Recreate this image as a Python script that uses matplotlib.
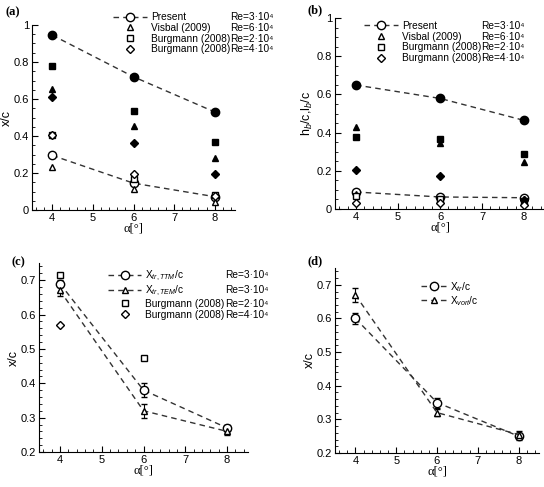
import matplotlib
matplotlib.use('Agg')
import matplotlib.pyplot as plt
from matplotlib.ticker import AutoMinorLocator, MultipleLocator, FuncFormatter
from matplotlib.lines import Line2D

plt.rcParams['font.family'] = ['Liberation Sans', 'DejaVu Sans']
plt.rcParams['mathtext.fontset'] = 'custom'
plt.rcParams['mathtext.rm'] = 'Liberation Sans'
plt.rcParams['mathtext.it'] = 'Liberation Sans:italic'

alpha = [4, 6, 8]

# (a) x/c
a_present_fill = [0.945, 0.72, 0.53]
a_present_open = [0.295, 0.145, 0.072]
a_visbal_fill = [0.655, 0.455, 0.283]
a_visbal_open = [0.234, 0.112, 0.045]
a_burg2_fill = [0.78, 0.537, 0.366]
a_burg2_open = [0.405, 0.166, 0.079]
a_burg4_fill = [0.613, 0.36, 0.193]
a_burg4_open = [0.405, 0.195, 0.076]

# (b) h_b/c, l_b/c
b_present_fill = [0.649, 0.579, 0.464]
b_present_open = [0.089, 0.063, 0.059]
b_visbal_fill = [0.428, 0.346, 0.244]
b_visbal_open = [0.08, 0.05, 0.05]
b_burg2_fill = [0.379, 0.368, 0.288]
b_burg2_open = [0.07, 0.05, 0.04]
b_burg4_fill = [0.206, 0.175, 0.045]
b_burg4_open = [0.03, 0.03, 0.02]

names_ab = ['Present', 'Visbal (2009)', 'Burgmann (2008)', 'Burgmann (2008)']
re_ab = ['Re=3·10⁴', 'Re=6·10⁴', 'Re=2·10⁴', 'Re=4·10⁴']

# (c) transition location
c_ttm = [0.69, 0.38, 0.27]
c_ttm_err = [0.01, 0.02, 0.01]
c_tem = [0.67, 0.32, 0.26]
c_tem_err = [0.015, 0.02, 0.01]
c_burg2 = [0.715, 0.475, 0.27]
c_burg4_alpha = [4]
c_burg4 = [0.57]
names_c = ['X$_{tr,TTM}$/c', 'X$_{tr,TEM}$/c', 'Burgmann (2008)', 'Burgmann (2008)']
re_c = ['Re=3·10⁴', 'Re=3·10⁴', 'Re=2·10⁴', 'Re=4·10⁴']

# (d)
d_tr = [0.60, 0.35, 0.25]
d_tr_err = [0.015, 0.015, 0.01]
d_vort = [0.67, 0.32, 0.255]
d_vort_err = [0.02, 0.01, 0.01]
names_d = ['X$_{tr}$/c', 'X$_{vort}$/c']

fig = plt.figure(figsize=(5.44, 4.87), dpi=100)
W, H = 544, 487
LFS = 7.3


def make_ax(x0, x1, y0, y1):
    ax = fig.add_axes([x0 / W, 1 - y1 / H, (x1 - x0) / W, (y1 - y0) / H])
    ax.spines['top'].set_visible(False)
    ax.spines['right'].set_visible(False)
    ax.set_xlim(3.5, 8.5)
    ax.xaxis.set_major_locator(MultipleLocator(1))
    ax.xaxis.set_minor_locator(AutoMinorLocator(5))
    ax.yaxis.set_minor_locator(AutoMinorLocator(4))
    ax.yaxis.set_major_formatter(FuncFormatter(lambda v, p: '%g' % round(v, 3)))
    ax.tick_params(which='both', direction='in', labelsize=8, pad=2)
    ax.tick_params(which='major', length=4)
    ax.tick_params(which='minor', length=2)
    ax.set_xlabel('α[°]', family=['Liberation Serif'], fontsize=9, labelpad=0)
    return ax


dash = dict(ls=(0, (4, 3)), lw=1, color='#333333')
k = 'black'
legends = []


def two_col_legend(ax, handles, names, res, anchor, hl=3.3):
    leg = ax.legend(handles, names, loc='upper left',
                    bbox_to_anchor=anchor, frameon=False, fontsize=LFS,
                    handlelength=hl, handletextpad=0.4,
                    labelspacing=0.08, borderpad=0, borderaxespad=0)
    legends.append((leg, res))


def scatter_panel(ax, pf, po, vf, vo, b2f, b2o, b4f, b4o):
    ax.plot(alpha, pf, marker='o', ms=6, mfc=k, mec=k, **dash)
    ax.plot(alpha, po, marker='o', ms=6, mfc='white', mec=k, **dash)
    ax.plot(alpha, vf, '^', ms=4.5, mfc=k, mec=k)
    ax.plot(alpha, vo, '^', ms=4.5, mfc='white', mec=k)
    ax.plot(alpha, b2f, 's', ms=4.5, mfc=k, mec=k)
    ax.plot(alpha, b2o, 's', ms=4.5, mfc='white', mec=k)
    ax.plot(alpha, b4f, 'D', ms=4, mfc=k, mec=k)
    ax.plot(alpha, b4o, 'D', ms=4, mfc='white', mec=k)
    hs = [Line2D([], [], marker='o', ms=6, mfc='white', mec=k, **dash),
          Line2D([], [], ls='none', marker='^', ms=4.5, mfc='white', mec=k),
          Line2D([], [], ls='none', marker='s', ms=4.5, mfc='white', mec=k),
          Line2D([], [], ls='none', marker='D', ms=4, mfc='white', mec=k)]
    return hs


# (a)
ax = make_ax(32, 235, 25, 210)
hs = scatter_panel(ax, a_present_fill, a_present_open, a_visbal_fill, a_visbal_open,
                   a_burg2_fill, a_burg2_open, a_burg4_fill, a_burg4_open)
ax.set_ylim(0, 1)
ax.yaxis.set_major_locator(MultipleLocator(0.2))
ax.set_ylabel('x/c', fontsize=9, labelpad=1)
two_col_legend(ax, hs, names_ab, re_ab, (0.40, 1.07))
fig.text(5 / W, 1 - 15 / H, '(a)', family=['Liberation Serif'], fontweight='bold', fontsize=9)

# (b)
ax = make_ax(335, 545, 18, 209)
hs = scatter_panel(ax, b_present_fill, b_present_open, b_visbal_fill, b_visbal_open,
                   b_burg2_fill, b_burg2_open, b_burg4_fill, b_burg4_open)
ax.set_ylim(0, 1)
ax.yaxis.set_major_locator(MultipleLocator(0.2))
ax.set_ylabel('h$_b$/c,l$_b$/c', fontsize=9, labelpad=1)
two_col_legend(ax, hs, names_ab, re_ab, (0.14, 0.985))
fig.text(307 / W, 1 - 13 / H, '(b)', family=['Liberation Serif'], fontweight='bold', fontsize=9)

# (c)
ax = make_ax(39, 248, 263, 452)
ax.errorbar(alpha, c_ttm, yerr=c_ttm_err, marker='o', ms=6, mfc='white', mec=k,
            ecolor=k, elinewidth=0.8, capsize=2.5, **dash)
ax.errorbar(alpha, c_tem, yerr=c_tem_err, marker='^', ms=5, mfc='white', mec=k,
            ecolor=k, elinewidth=0.8, capsize=2.5, **dash)
ax.plot(alpha, c_burg2, 's', ms=4.5, mfc='white', mec=k)
ax.plot(c_burg4_alpha, c_burg4, 'D', ms=4, mfc='white', mec=k)
ax.set_ylim(0.2, 0.75)
ax.yaxis.set_major_locator(MultipleLocator(0.1))
ax.yaxis.set_minor_locator(AutoMinorLocator(5))
ax.set_ylabel('x/c', fontsize=9, labelpad=1)
hs = [Line2D([], [], marker='o', ms=6, mfc='white', mec=k, **dash),
      Line2D([], [], marker='^', ms=5, mfc='white', mec=k, **dash),
      Line2D([], [], ls='none', marker='s', ms=4.5, mfc='white', mec=k),
      Line2D([], [], ls='none', marker='D', ms=4, mfc='white', mec=k)]
two_col_legend(ax, hs, names_c, re_c, (0.33, 0.97))
fig.text(12 / W, 1 - 265 / H, '(c)', family=['Liberation Serif'], fontweight='bold', fontsize=9)

# (d)
ax = make_ax(335, 539, 268, 453)
ax.errorbar(alpha, d_tr, yerr=d_tr_err, marker='o', ms=6, mfc='white', mec=k,
            ecolor=k, elinewidth=0.8, capsize=2.5, **dash)
ax.errorbar(alpha, d_vort, yerr=d_vort_err, marker='^', ms=5, mfc='white', mec=k,
            ecolor=k, elinewidth=0.8, capsize=2.5, **dash)
ax.set_ylim(0.2, 0.75)
ax.yaxis.set_major_locator(MultipleLocator(0.1))
ax.yaxis.set_minor_locator(AutoMinorLocator(5))
ax.set_ylabel('x/c', fontsize=9, labelpad=1)
hs = [Line2D([], [], marker='o', ms=6, mfc='white', mec=k, **dash),
      Line2D([], [], marker='^', ms=5, mfc='white', mec=k, **dash)]
ax.legend(hs, names_d, loc='upper left', bbox_to_anchor=(0.42, 0.935), frameon=False,
          fontsize=LFS, handlelength=2.6, handletextpad=0.3, labelspacing=0.0,
          borderpad=0, borderaxespad=0)
fig.text(307 / W, 1 - 264 / H, '(d)', family=['Liberation Serif'], fontweight='bold', fontsize=9)

# Re column of the two-column legends, on the same baselines as the name rows
fig.canvas.draw()
for leg, res in legends:
    texts = leg.get_texts()
    right = max(t.get_window_extent().x1 for t in texts)
    for t, r in zip(texts, res):
        x, y = t.get_transform().transform(t.get_position())
        fig.text(right / fig.bbox.width, y / fig.bbox.height, r,
                 fontsize=LFS, va=t.get_va(), ha='left')

fig.savefig('out.png', dpi=100)
